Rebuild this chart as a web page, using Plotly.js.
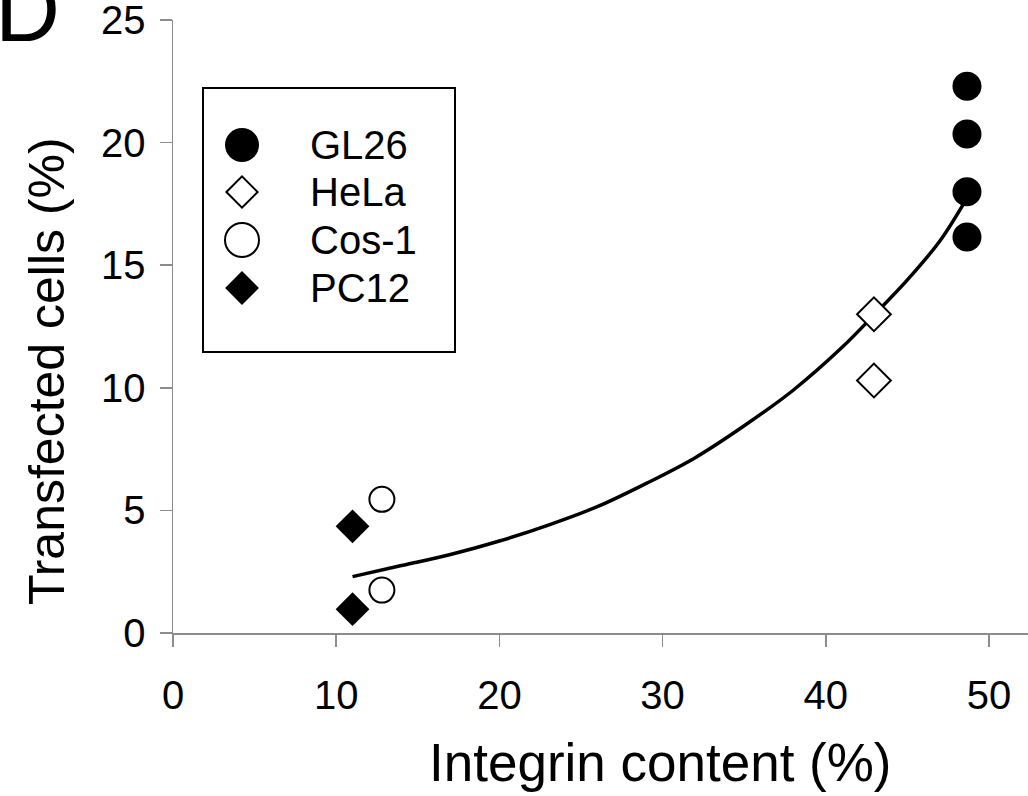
<!DOCTYPE html>
<html>
<head>
<meta charset="utf-8">
<script src="https://cdn.plot.ly/plotly-3.0.1.min.js"></script>
<style>html,body{margin:0;padding:0;background:#fff;}#chart{width:1028px;height:796px;}</style>
</head>
<body>
<div id="chart"></div>
<script>
// ---- data ----
const seriesNames = ["GL26", "HeLa", "Cos-1", "PC12"];
const gl26X = [48.65, 48.65, 48.65, 48.65];
const gl26Y = [22.3, 20.35, 18.0, 16.15];
const helaX = [42.95, 42.95];
const helaY = [13.0, 10.3];
const cosX = [12.8, 12.8];
const cosY = [5.45, 1.75];
const pc12X = [11.0, 11.0];
const pc12Y = [4.35, 0.97];
// fitted trend curve as drawn in the figure
const curveX = [11.0, 14, 17, 20, 23, 26, 29, 32, 35, 38, 41, 43, 45, 47, 48.7];
const curveY = [2.3, 2.75, 3.2, 3.75, 4.4, 5.15, 6.1, 7.15, 8.45, 9.9, 11.65, 13.0, 14.4, 16.0, 17.8];
const xTicks = [0, 10, 20, 30, 40, 50];
const yTicks = [0, 5, 10, 15, 20, 25];
const xTitle = "Integrin content (%)";
const yTitle = "Transfected cells (%)";
const panelLabel = "D";

// ---- layout geometry (pixels) ----
const W = 1028, H = 796;
const M = {l: 173, r: 0, t: 20, b: 163};
const PW = W - M.l - M.r, PH = H - M.t - M.b;
const fx = px => (px - M.l) / PW;
const fy = py => (H - M.b - py) / PH;

const FONT = "Liberation Sans, Arial, Helvetica, sans-serif";

const circleFilled = {symbol: "circle", color: "#000", line: {width: 0}};
const circleOpen = {symbol: "circle", color: "#fff", line: {width: 2, color: "#000"}};
const diamondOpen = {symbol: "diamond", color: "#fff", line: {width: 2, color: "#000"}};
const diamondFilled = {symbol: "diamond", color: "#000", line: {width: 0}};

const traces = [
  {x: curveX, y: curveY, mode: "lines", line: {color: "#000", width: 3.5, shape: "spline"}, showlegend: false, hoverinfo: "skip"},
  {x: gl26X, y: gl26Y, mode: "markers", name: seriesNames[0], marker: Object.assign({size: 29}, circleFilled), showlegend: false},
  {x: helaX, y: helaY, mode: "markers", name: seriesNames[1], marker: Object.assign({size: 26}, diamondOpen), showlegend: false},
  {x: cosX, y: cosY, mode: "markers", name: seriesNames[2], marker: Object.assign({size: 25}, circleOpen), showlegend: false},
  {x: pc12X, y: pc12Y, mode: "markers", name: seriesNames[3], marker: Object.assign({size: 26}, diamondFilled), showlegend: false}
];

// custom legend (markers on an overlay axis in plot-fraction units)
const legRowsPx = [145, 192, 240, 288];
const legStyles = [
  Object.assign({size: 34}, circleFilled),
  Object.assign({size: 24}, diamondOpen),
  Object.assign({size: 34}, circleOpen),
  Object.assign({size: 26}, diamondFilled)
];
seriesNames.forEach((n, i) => {
  traces.push({x: [fx(242)], y: [fy(legRowsPx[i])], xaxis: "x2", yaxis: "y2", mode: "markers",
    marker: legStyles[i], showlegend: false, hoverinfo: "skip", cliponaxis: false});
});

const annotations = seriesNames.map((n, i) => ({
  text: n, xref: "paper", yref: "paper", x: fx(308), y: fy(legRowsPx[i]), xanchor: "left", yanchor: "middle",
  showarrow: false, font: {family: FONT, size: 40, color: "#000"}
}));
annotations.push({text: xTitle, xref: "paper", yref: "paper", x: fx(660), y: fy(762), xanchor: "center", yanchor: "middle",
  showarrow: false, font: {family: FONT, size: 53, color: "#000"}});
annotations.push({text: yTitle, xref: "paper", yref: "paper", x: fx(47), y: fy(371), xanchor: "center", yanchor: "middle",
  textangle: -90, showarrow: false, font: {family: FONT, size: 50, color: "#000"}});
annotations.push({text: panelLabel, xref: "paper", yref: "paper", x: fx(-7), y: fy(62), xanchor: "left", yanchor: "bottom",
  showarrow: false, font: {family: FONT, size: 90, color: "#000"}});

const layout = {
  width: W, height: H,
  margin: M,
  paper_bgcolor: "#fff", plot_bgcolor: "#fff",
  showlegend: false,
  font: {family: FONT, color: "#000"},
  xaxis: {range: [0, (W - M.l - M.r) / 16.32], tickmode: "array", tickvals: xTicks, ticktext: xTicks.map(String),
    ticks: "outside", ticklen: 12, tickwidth: 1.5, tickcolor: "#8c8c8c", showline: true, linecolor: "#8c8c8c", linewidth: 1.5,
    showgrid: false, zeroline: false, tickfont: {family: FONT, size: 40, color: "#000"}, ticklabelstandoff: 14,
    ticklabeloverflow: "allow", fixedrange: true},
  yaxis: {range: [0, 25], tickmode: "array", tickvals: yTicks, ticktext: yTicks.map(String),
    ticks: "outside", ticklen: 12, tickwidth: 1.5, tickcolor: "#8c8c8c", showline: true, linecolor: "#8c8c8c", linewidth: 1.5,
    showgrid: false, zeroline: false, tickfont: {family: FONT, size: 40, color: "#000"}, ticklabelstandoff: 6,
    ticklabeloverflow: "allow", fixedrange: true},
  xaxis2: {overlaying: "x", range: [0, 1], visible: false, fixedrange: true},
  yaxis2: {overlaying: "y", range: [0, 1], visible: false, fixedrange: true},
  shapes: [{type: "rect", xref: "paper", yref: "paper", x0: fx(203), x1: fx(455), y0: fy(88), y1: fy(352),
    line: {color: "#000", width: 2}, fillcolor: "rgba(0,0,0,0)"}],
  annotations: annotations
};

Plotly.newPlot("chart", traces, layout, {displayModeBar: false, staticPlot: true});
</script>
</body>
</html>
